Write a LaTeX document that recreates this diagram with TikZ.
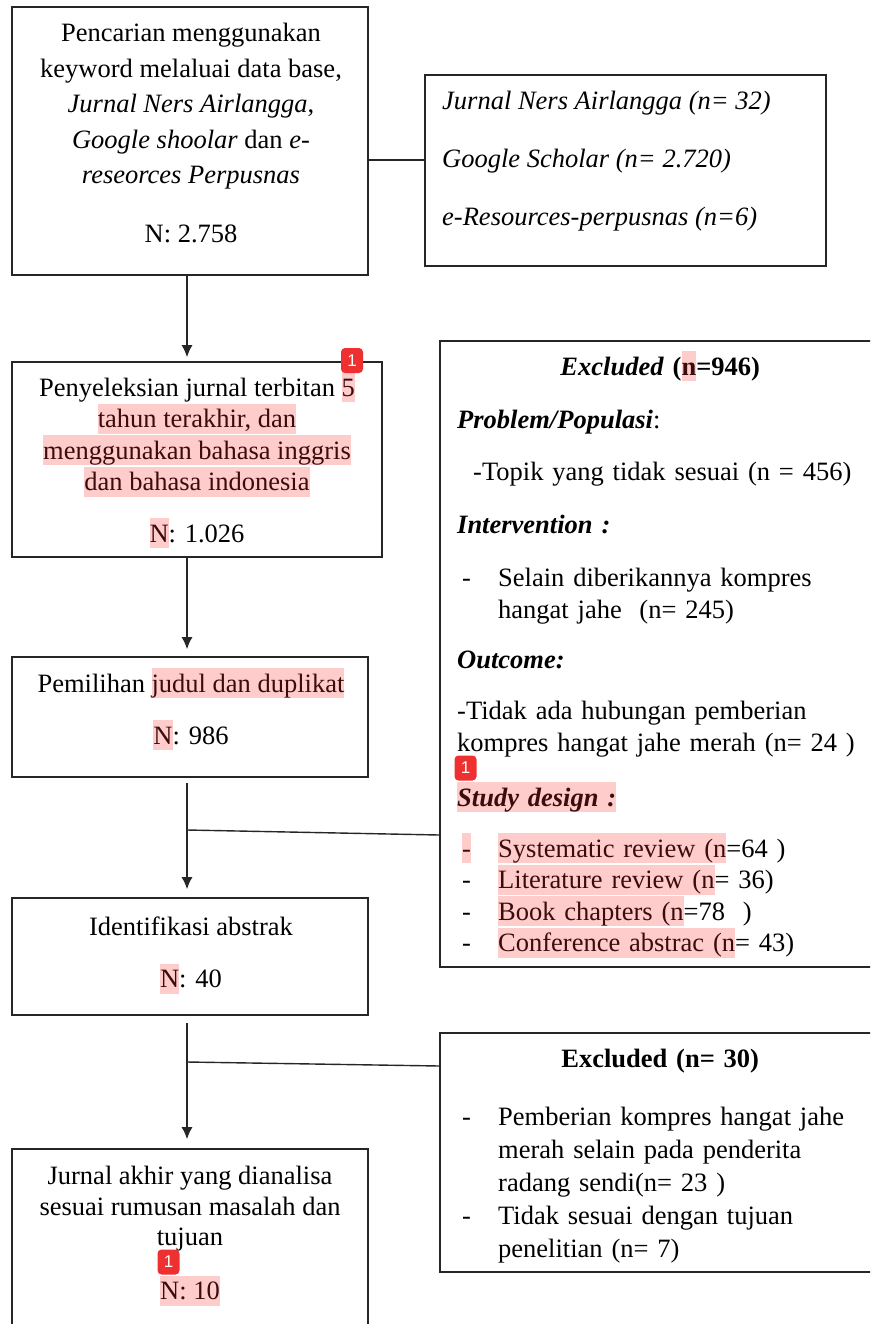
\documentclass[tikz,border=0pt]{standalone}
\usepackage{fontspec}
\setmainfont{Liberation Serif}
\newfontfamily\badgefont{Liberation Sans}
\usetikzlibrary{arrows.meta}
\definecolor{hlpink}{RGB}{255,204,204}
\definecolor{hltext}{RGB}{60,12,12}
\definecolor{badgered}{RGB}{238,48,48}
\newcommand{\hl}[1]{{\setlength{\fboxsep}{0pt}\colorbox{hlpink}{\color{hltext}\vrule height 0.9em depth 0.24em width 0pt #1}}}

\begin{document}
\begin{tikzpicture}[x=1pt, y=-1pt]
\tikzset{ >={Latex[length=12pt,width=11pt]},
  box/.style={draw=black!85, line width=1.6pt, inner sep=0pt},
  link/.style={draw=black!85, line width=1.4pt},
  txt/.style={inner sep=0pt, font=\fontsize{26.5}{31.5}\selectfont},
  badge/.style={fill=badgered, rounded corners=4pt, minimum width=22pt, minimum height=25pt,
    inner sep=0pt, text=white, font=\badgefont\fontsize{17}{17}\selectfont},
}

\clip (0,0) rectangle (870,1324);

% boxes of the left column
\node [box, minimum width=356pt, minimum height=268pt] (search) at (190,141)    {};
\node [box, minimum width=370pt, minimum height=195pt] (select) at (197,459.5)  {};
\node [box, minimum width=356pt, minimum height=120pt] (title)  at (190,717)    {};
\node [box, minimum width=356pt, minimum height=117pt] (abstr)  at (190,956.5)  {};
\node [box, minimum width=356pt, minimum height=191pt] (final)  at (190,1244.5) {};

% boxes of the right column
\node [box, minimum width=401pt, minimum height=191pt] (sources) at (625.5,170.5) {};
\node [box, minimum width=460pt, minimum height=626pt] (excl1)   at (670,654)     {};
\node [box, minimum width=460pt, minimum height=239pt] (excl2)   at (670,1152.5)  {};

% texts
\node [txt, align=center, anchor=north, font=\fontsize{26.5}{35.5}\selectfont] (searchtxt) at (191,23) {
Pencarian menggunakan\\
keyword melaluai data base,\\
\textit{Jurnal Ners Airlangga},\\
\textit{Google shoolar} dan \textit{e-}\\
\textit{reseorces Perpusnas}\\[23pt]
N: 2.758};

\node [txt, align=left, anchor=north west, font=\fontsize{26.5}{58}\selectfont\itshape] (sourcestxt) at (442,91) {
Jurnal Ners Airlangga (n= 32)\\
Google Scholar (n= 2.720)\\
e-Resources-perpusnas (n=6)};

\node [txt, align=center, anchor=north] (selecttxt) at (197,372) {
Penyeleksian jurnal terbitan \hl{5}\\
\hl{tahun terakhir, dan}\\
\hl{menggunakan bahasa inggris}\\
\hl{dan bahasa indonesia}\\[20pt]
\hl{N}: 1.026};

\node [txt, align=center, anchor=north] (titletxt) at (191,668) {
Pemilihan \hl{judul dan duplikat}\\[20.5pt]
\hl{N}: 986};

\node [txt, align=center, anchor=north] (abstrtxt) at (191,917) {
Identifikasi abstrak\\[20.5pt]
\hl{N}: 40};

\node [txt, align=center, anchor=north, font=\fontsize{26.5}{30.5}\selectfont] (finaltxt) at (190,1166) {
Jurnal akhir yang dianalisa\\
sesuai rumusan masalah dan\\
tujuan\\[23.5pt]
\hl{N: 10}};

\node [txt, align=left, text width=406pt, anchor=north west] (excl1txt) at (457,351) {
\makebox[\linewidth]{\textbf{\textit{Excluded} (\hl{n}=946)}}\\[21.5pt]
\textbf{\textit{Problem/Populasi}}:\\[21pt]
\hspace*{16pt}-Topik yang tidak sesuai (n = 456)\\[21.5pt]
\textbf{\textit{Intervention :}}\\[21.5pt]
\hspace*{5pt}\makebox[36pt][l]{-}Selain diberikannya kompres\\
\hspace*{41pt}hangat jahe\ \ (n= 245)\\[19pt]
\textbf{\textit{Outcome:}}\\[19.5pt]
-Tidak ada hubungan pemberian\\
kompres hangat jahe merah (n= 24 )\\[23.5pt]
\hl{\textbf{\textit{Study design :}}}\\[19.5pt]
\hspace*{5pt}\makebox[36pt][l]{\hl{-}}\hl{Systematic review (n}=64 )\\
\hspace*{5pt}\makebox[36pt][l]{-}\hl{Literature review (n}= 36)\\
\hspace*{5pt}\makebox[36pt][l]{-}\hl{Book chapters (n}=78\ \ )\\
\hspace*{5pt}\makebox[36pt][l]{-}\hl{Conference abstrac (n}= 43)};

\node [txt, align=left, text width=406pt, anchor=north west, font=\fontsize{26.5}{33}\selectfont] (excl2txt) at (457,1049) {
\makebox[\linewidth]{\textbf{Excluded (n= 30)}}\\[25pt]
\hspace*{5pt}\makebox[36pt][l]{-}Pemberian kompres hangat jahe\\
\hspace*{41pt}merah selain pada penderita\\
\hspace*{41pt}radang sendi(n= 23 )\\
\hspace*{5pt}\makebox[36pt][l]{-}Tidak sesuai dengan tujuan\\
\hspace*{41pt}penelitian (n= 7)};

% connectors
\coordinate (spine) at (187,0);
\coordinate (fork1) at (187,830);
\coordinate (fork2) at (187,1062);

\draw [link] ([yshift=-19pt]search.east) -- ([yshift=-19pt]search.east -| sources.west);
\draw [link, ->, shorten >=4pt] (search.south -| spine) -- (select.north -| spine);
\draw [link, ->, shorten >=7pt] (select.south -| spine) -- (title.north -| spine);
\draw [link, ->, shorten <=5pt, shorten >=8pt] (title.south -| spine) -- (abstr.north -| spine);
\draw [link, ->, shorten <=7pt, shorten >=9pt] (abstr.south -| spine) -- (final.north -| spine);
\draw [link] (fork1) -- (excl1.west |- 0,835);
\draw [link] (fork2) -- (excl2.west |- 0,1066);

% comment marks
\node [badge] (mark1) at (352,360.5) {1};
\node [badge] (mark2) at (465.5,768)  {1};
\node [badge] (mark3) at (168.5,1262) {1};
\end{tikzpicture}
\end{document}
